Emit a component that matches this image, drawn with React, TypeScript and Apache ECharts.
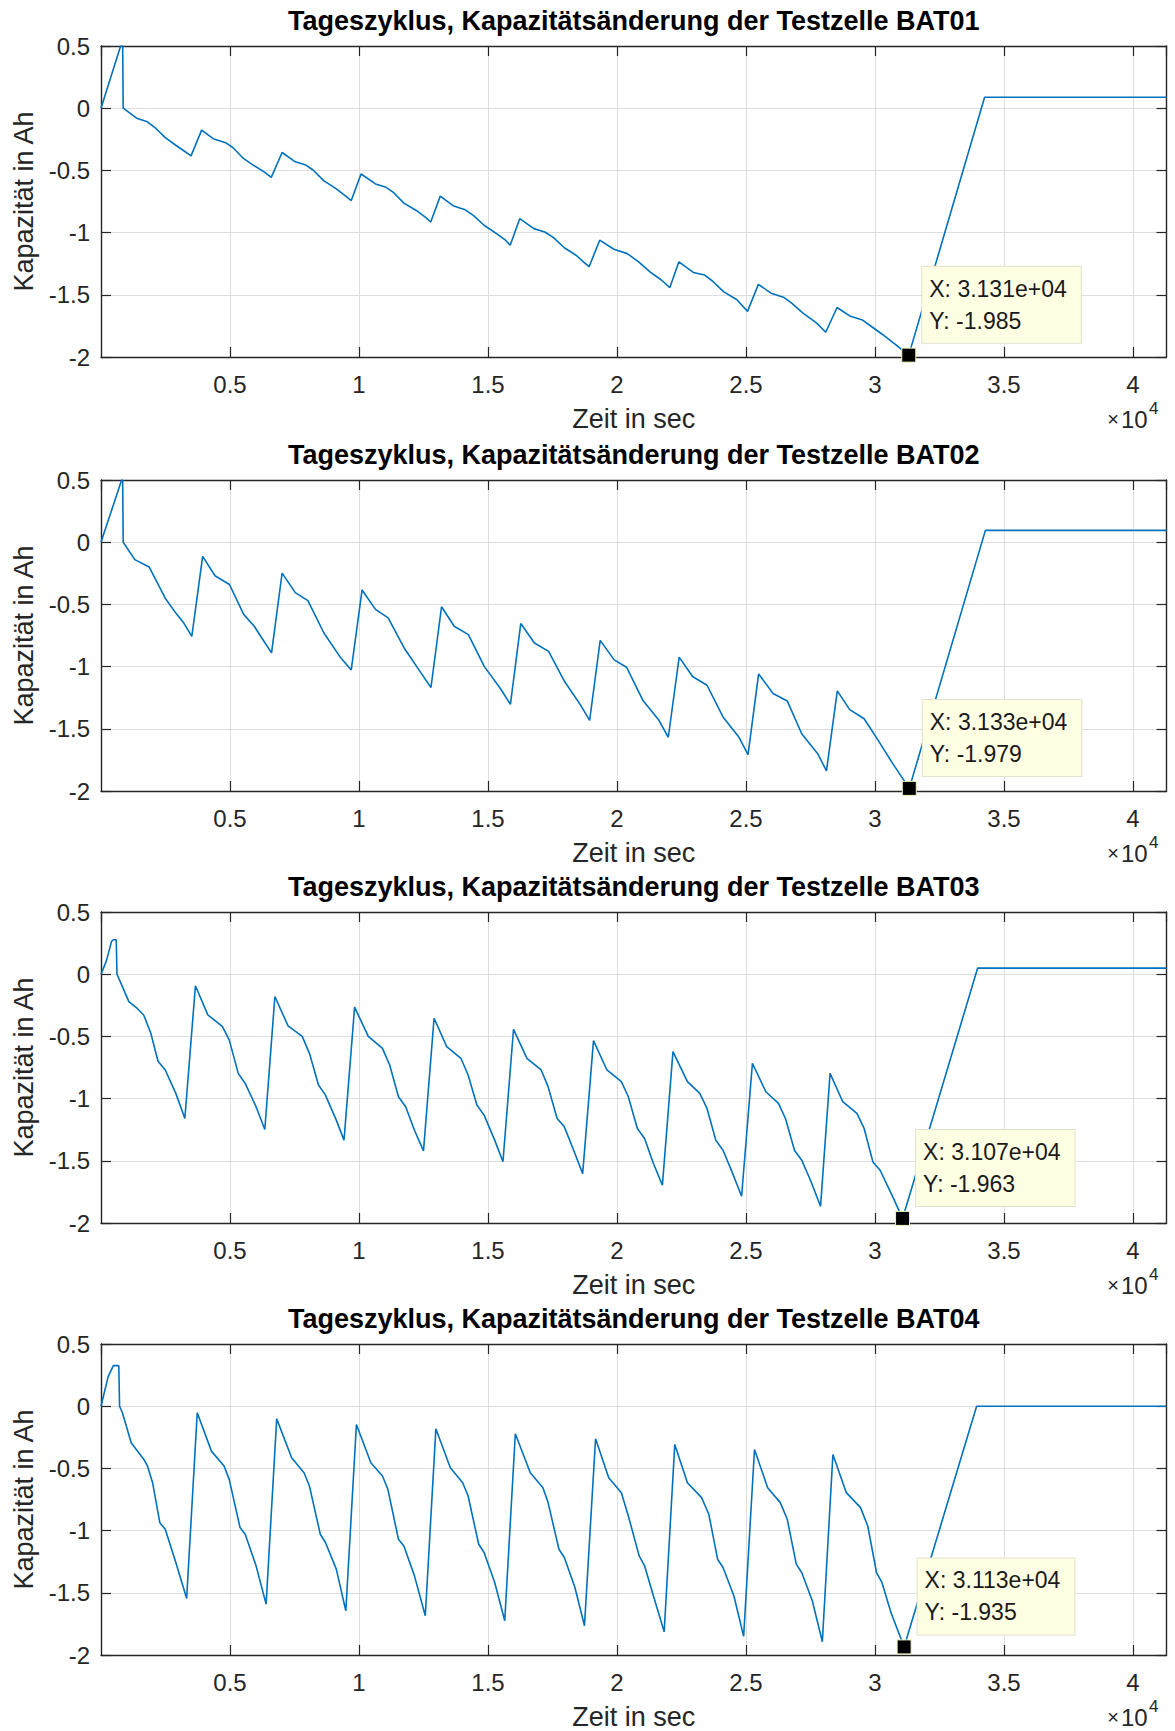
import React, { useEffect, useRef } from "react";
import * as echarts from "echarts";

// ---------- data ----------
const panelTitles = [
  "Tageszyklus, Kapazitätsänderung der Testzelle BAT01",
  "Tageszyklus, Kapazitätsänderung der Testzelle BAT02",
  "Tageszyklus, Kapazitätsänderung der Testzelle BAT03",
  "Tageszyklus, Kapazitätsänderung der Testzelle BAT04",
];
const xAxisName = "Zeit in sec";
const yAxisName = "Kapazität in Ah";

const bat01: [number, number][] = [
  [0, 0], [760, 0.5], [840, 0.5], [860, 0],
  [1380, -0.08], [1800, -0.109], [2140, -0.165], [2490, -0.237], [2900, -0.298], [3250, -0.348], [3490, -0.383],
  [3900, -0.176], [4350, -0.245], [4830, -0.277], [5110, -0.316], [5520, -0.404], [5940, -0.463], [6350, -0.516], [6600, -0.556],
  [7020, -0.356], [7530, -0.431], [7940, -0.457], [8220, -0.497], [8630, -0.582], [9120, -0.649], [9460, -0.702], [9700, -0.742],
  [10080, -0.529], [10640, -0.609], [11050, -0.636], [11330, -0.676], [11740, -0.763], [12220, -0.822], [12570, -0.875], [12780, -0.915],
  [13150, -0.707], [13670, -0.787], [14090, -0.814], [14430, -0.862], [14850, -0.941], [15330, -1.008], [15680, -1.061], [15860, -1.101],
  [16230, -0.888], [16780, -0.968], [17200, -0.995], [17540, -1.04], [17960, -1.122], [18440, -1.186], [18720, -1.239], [18920, -1.274],
  [19330, -1.061], [19880, -1.134], [20400, -1.169], [20840, -1.235], [21280, -1.315], [21720, -1.381], [22050, -1.442],
  [22400, -1.235], [22960, -1.32], [23400, -1.341], [23700, -1.389], [24130, -1.474], [24650, -1.54], [25060, -1.633],
  [25480, -1.416], [25970, -1.487], [26480, -1.522], [26770, -1.567], [27210, -1.647], [27730, -1.726], [28090, -1.801],
  [28530, -1.602], [29050, -1.673], [29490, -1.7], [29850, -1.753], [30290, -1.819], [30800, -1.9], [31310, -1.985],
  [34250, 0.088], [41300, 0.088],
];

const bat02: [number, number][] = [
  [0, 0], [800, 0.5], [840, 0.5], [860, 0],
  [1310, -0.14], [1870, -0.2], [2490, -0.45], [2900, -0.57], [3210, -0.65], [3520, -0.757],
  [3940, -0.114], [4420, -0.27], [4980, -0.34], [5530, -0.58], [5940, -0.676], [6360, -0.81], [6610, -0.89],
  [7020, -0.249], [7530, -0.405], [8020, -0.47], [8640, -0.73], [9260, -0.92], [9700, -1.027],
  [10120, -0.384], [10640, -0.54], [11130, -0.608], [11750, -0.85], [12370, -1.04], [12790, -1.168],
  [13200, -0.519], [13690, -0.676], [14240, -0.743], [14860, -1.0], [15480, -1.176], [15870, -1.303],
  [16270, -0.654], [16800, -0.81], [17350, -0.878], [17970, -1.12], [18590, -1.31], [18940, -1.432],
  [19350, -0.789], [19890, -0.946], [20370, -1.005], [21000, -1.27], [21620, -1.43], [21990, -1.568],
  [22410, -0.924], [22930, -1.08], [23490, -1.15], [24110, -1.405], [24730, -1.568], [25080, -1.708],
  [25490, -1.059], [26050, -1.216], [26600, -1.276], [27160, -1.54], [27780, -1.7], [28120, -1.838],
  [28540, -1.195], [29020, -1.346], [29580, -1.419], [30130, -1.595], [30690, -1.78], [31330, -1.979],
  [34280, 0.095], [41300, 0.095],
];

const bat03: [number, number][] = [
  [0, 0], [210, 0.107], [410, 0.264], [480, 0.277], [590, 0.277], [620, 0],
  [830, -0.1], [1080, -0.22], [1380, -0.27], [1660, -0.33], [1930, -0.475], [2210, -0.7], [2490, -0.77], [2900, -0.958], [3250, -1.16],
  [3660, -0.093], [4140, -0.327], [4700, -0.42], [4970, -0.528], [5320, -0.797], [5590, -0.878], [6010, -1.065], [6350, -1.248],
  [6740, -0.179], [7250, -0.416], [7800, -0.5], [8080, -0.636], [8430, -0.891], [8700, -0.972], [9120, -1.173], [9420, -1.334],
  [9830, -0.265], [10360, -0.5], [10910, -0.596], [11190, -0.73], [11530, -0.985], [11810, -1.066], [12150, -1.254], [12500, -1.42],
  [12910, -0.354], [13400, -0.582], [13950, -0.676], [14230, -0.81], [14570, -1.052], [14850, -1.133], [15260, -1.334], [15580, -1.508],
  [15990, -0.443], [16510, -0.676], [17060, -0.77], [17330, -0.904], [17680, -1.16], [17960, -1.227], [18370, -1.441], [18670, -1.603],
  [19090, -0.534], [19610, -0.77], [20170, -0.864], [20440, -0.985], [20790, -1.24], [21070, -1.32], [21410, -1.52], [21760, -1.697],
  [22170, -0.622], [22730, -0.864], [23210, -0.958], [23490, -1.079], [23830, -1.334], [24110, -1.415], [24460, -1.589], [24830, -1.785],
  [25250, -0.716], [25770, -0.945], [26260, -1.039], [26530, -1.16], [26880, -1.415], [27160, -1.495], [27500, -1.656], [27890, -1.866],
  [28260, -0.797], [28750, -1.025], [29300, -1.119], [29580, -1.24], [29920, -1.509], [30200, -1.576], [30690, -1.79], [31070, -1.963],
  [33980, 0.049], [41300, 0.049],
];

const bat04: [number, number][] = [
  [0, 0], [280, 0.24], [480, 0.326], [690, 0.326], [720, 0],
  [830, -0.053], [1170, -0.294], [1660, -0.428], [1800, -0.48], [2000, -0.615], [2280, -0.936], [2490, -0.99], [2900, -1.257], [3320, -1.545],
  [3730, -0.053], [4280, -0.361], [4770, -0.481], [4970, -0.588], [5390, -0.976], [5590, -1.029], [6010, -1.283], [6400, -1.591],
  [6810, -0.102], [7390, -0.414], [7870, -0.535], [8080, -0.642], [8500, -1.029], [8700, -1.096], [9120, -1.31], [9490, -1.644],
  [9900, -0.147], [10460, -0.455], [10910, -0.561], [11120, -0.668], [11530, -1.07], [11740, -1.123], [12150, -1.364], [12570, -1.684],
  [12980, -0.182], [13540, -0.495], [14020, -0.615], [14230, -0.722], [14640, -1.11], [14850, -1.176], [15260, -1.417], [15650, -1.725],
  [16060, -0.222], [16640, -0.535], [17130, -0.655], [17330, -0.775], [17750, -1.15], [17960, -1.216], [18370, -1.457], [18740, -1.765],
  [19170, -0.262], [19680, -0.575], [20170, -0.695], [20440, -0.882], [20860, -1.203], [21070, -1.283], [21410, -1.524], [21830, -1.813],
  [22240, -0.307], [22730, -0.615], [23280, -0.735], [23560, -0.869], [23900, -1.23], [24110, -1.297], [24530, -1.524], [24910, -1.85],
  [25330, -0.348], [25840, -0.655], [26330, -0.775], [26600, -0.909], [26950, -1.27], [27160, -1.337], [27570, -1.564], [27960, -1.893],
  [28370, -0.388], [28890, -0.695], [29440, -0.815], [29720, -0.963], [30060, -1.337], [30270, -1.417], [30620, -1.658], [31130, -1.935],
  [33940, 0.0], [41300, 0.0],
];

const seriesData = [bat01, bat02, bat03, bat04];
const tipX = [31310, 31330, 31070, 31130];
const tipY = [-1.985, -1.979, -1.963, -1.935];

const X_MIN = 0;
const X_MAX = 41300;
const X_STEP = 5000;
const X_SCALE = 10000;
const Y_MIN = -2;
const Y_MAX = 0.5;
const Y_STEP = 0.5;

// ---------- layout / style ----------
const W = 1175;
const H = 1731;
const GRID_LEFT = 101;
const GRID_RIGHT = 8.5;
const GRID_TOPS = [46, 480, 912, 1344];
const GRID_H = 311;
const FONT = '"Liberation Sans", Arial, Helvetica, sans-serif';
const AXIS_COLOR = "#262626";
const GRID_COLOR = "#dedede";
const LINE_COLOR = "#0072BD";

function fmtTip(x: number, y: number): string {
  const [m, e] = x.toExponential(3).split("e");
  const sign = e[0];
  const exp = e.slice(1).padStart(2, "0");
  return `X: ${m}e${sign}${exp}\nY: ${y.toFixed(3)}`;
}

function buildOption() {
  const grids: any[] = [];
  const xAxes: any[] = [];
  const yAxes: any[] = [];
  const series: any[] = [];
  const graphics: any[] = [];
  const plotCenterX = (GRID_LEFT + (W - GRID_RIGHT)) / 2;

  GRID_TOPS.forEach((top, i) => {
    grids.push({ left: GRID_LEFT, right: GRID_RIGHT, top, height: GRID_H, containLabel: false });
    const common = {
      type: "value",
      gridIndex: i,
      min: X_MIN,
      max: X_MAX,
      interval: X_STEP,
      axisLine: { show: true, onZero: false, lineStyle: { color: AXIS_COLOR, width: 1.4 } },
      axisTick: { show: true, inside: true, length: 10, lineStyle: { color: AXIS_COLOR, width: 1.2 } },
    };
    xAxes.push({
      ...common,
      position: "bottom",
      name: xAxisName,
      nameLocation: "middle",
      nameGap: 48,
      nameTextStyle: { fontFamily: FONT, fontSize: 27, color: "#262626" },
      axisLabel: {
        show: true,
        margin: 15,
        showMinLabel: false,
        showMaxLabel: false,
        fontFamily: FONT,
        fontSize: 24,
        color: "#262626",
        formatter: (v: number) => String(+(v / X_SCALE).toFixed(2)),
      },
      splitLine: { show: true, lineStyle: { color: GRID_COLOR, width: 1 } },
    });
    xAxes.push({
      ...common,
      position: "top",
      axisLabel: { show: false },
      splitLine: { show: false },
    });
    const ycommon = {
      type: "value",
      gridIndex: i,
      min: Y_MIN,
      max: Y_MAX,
      interval: Y_STEP,
      axisLine: { show: true, onZero: false, lineStyle: { color: AXIS_COLOR, width: 1.4 } },
      axisTick: { show: true, inside: true, length: 10, lineStyle: { color: AXIS_COLOR, width: 1.2 } },
    };
    yAxes.push({
      ...ycommon,
      position: "left",
      name: yAxisName,
      nameLocation: "middle",
      nameGap: 61,
      nameTextStyle: { fontFamily: FONT, fontSize: 27, color: "#262626" },
      axisLabel: {
        show: true,
        margin: 11,
        fontFamily: FONT,
        fontSize: 24,
        color: "#262626",
        formatter: (v: number) => String(+v.toFixed(2)),
      },
      splitLine: { show: true, lineStyle: { color: GRID_COLOR, width: 1 } },
    });
    yAxes.push({
      ...ycommon,
      position: "right",
      axisLabel: { show: false },
      splitLine: { show: false },
    });

    series.push({
      type: "line",
      name: panelTitles[i],
      xAxisIndex: 2 * i,
      yAxisIndex: 2 * i,
      data: seriesData[i],
      showSymbol: false,
      symbol: "none",
      lineStyle: { color: LINE_COLOR, width: 1.6 },
      clip: true,
      z: 3,
      markPoint: {
        symbol: "rect",
        symbolSize: 14,
        silent: true,
        itemStyle: { color: "#000000", borderColor: "#f2f2c4", borderWidth: 1 },
        label: {
          show: true,
          position: [21, -81],
          formatter: () => fmtTip(tipX[i], tipY[i]),
          fontFamily: FONT,
          fontSize: 23,
          lineHeight: 32,
          color: "#1a1a1a",
          align: "left",
          verticalAlign: "top",
          backgroundColor: "#ffffe3",
          borderColor: "#e2e2cc",
          borderWidth: 1,
          padding: [6, 14, 6, 7],
        },
        data: [{ coord: [tipX[i], tipY[i]] }],
      },
    });

    const bottom = top + GRID_H;
    graphics.push({
      type: "text",
      x: plotCenterX,
      y: top - 25,
      style: {
        text: panelTitles[i],
        align: "center",
        verticalAlign: "middle",
        font: `bold 27px ${FONT}`,
        fill: "#000000",
      },
    });
    graphics.push({
      type: "text",
      x: 1119,
      y: bottom + 62,
      style: { text: "×", align: "right", verticalAlign: "middle", font: `20px ${FONT}`, fill: "#262626" },
    });
    graphics.push({
      type: "text",
      x: 1121,
      y: bottom + 62,
      style: { text: "10", align: "left", verticalAlign: "middle", font: `24px ${FONT}`, fill: "#262626" },
    });
    graphics.push({
      type: "text",
      x: 1149,
      y: bottom + 51,
      style: { text: "4", align: "left", verticalAlign: "middle", font: `17px ${FONT}`, fill: "#262626" },
    });
  });

  return {
    animation: false,
    backgroundColor: "#ffffff",
    grid: grids,
    xAxis: xAxes,
    yAxis: yAxes,
    series,
    graphic: graphics,
  };
}

export default function App() {
  const ref = useRef<HTMLDivElement | null>(null);
  useEffect(() => {
    if (!ref.current) return;
    const chart = echarts.init(ref.current, undefined, { renderer: "svg", width: W, height: H });
    chart.setOption(buildOption() as any);
    return () => chart.dispose();
  }, []);
  return (
    <div
      ref={ref}
      style={{ position: "absolute", left: 0, top: 0, width: W, height: H, background: "#ffffff" }}
    />
  );
}
